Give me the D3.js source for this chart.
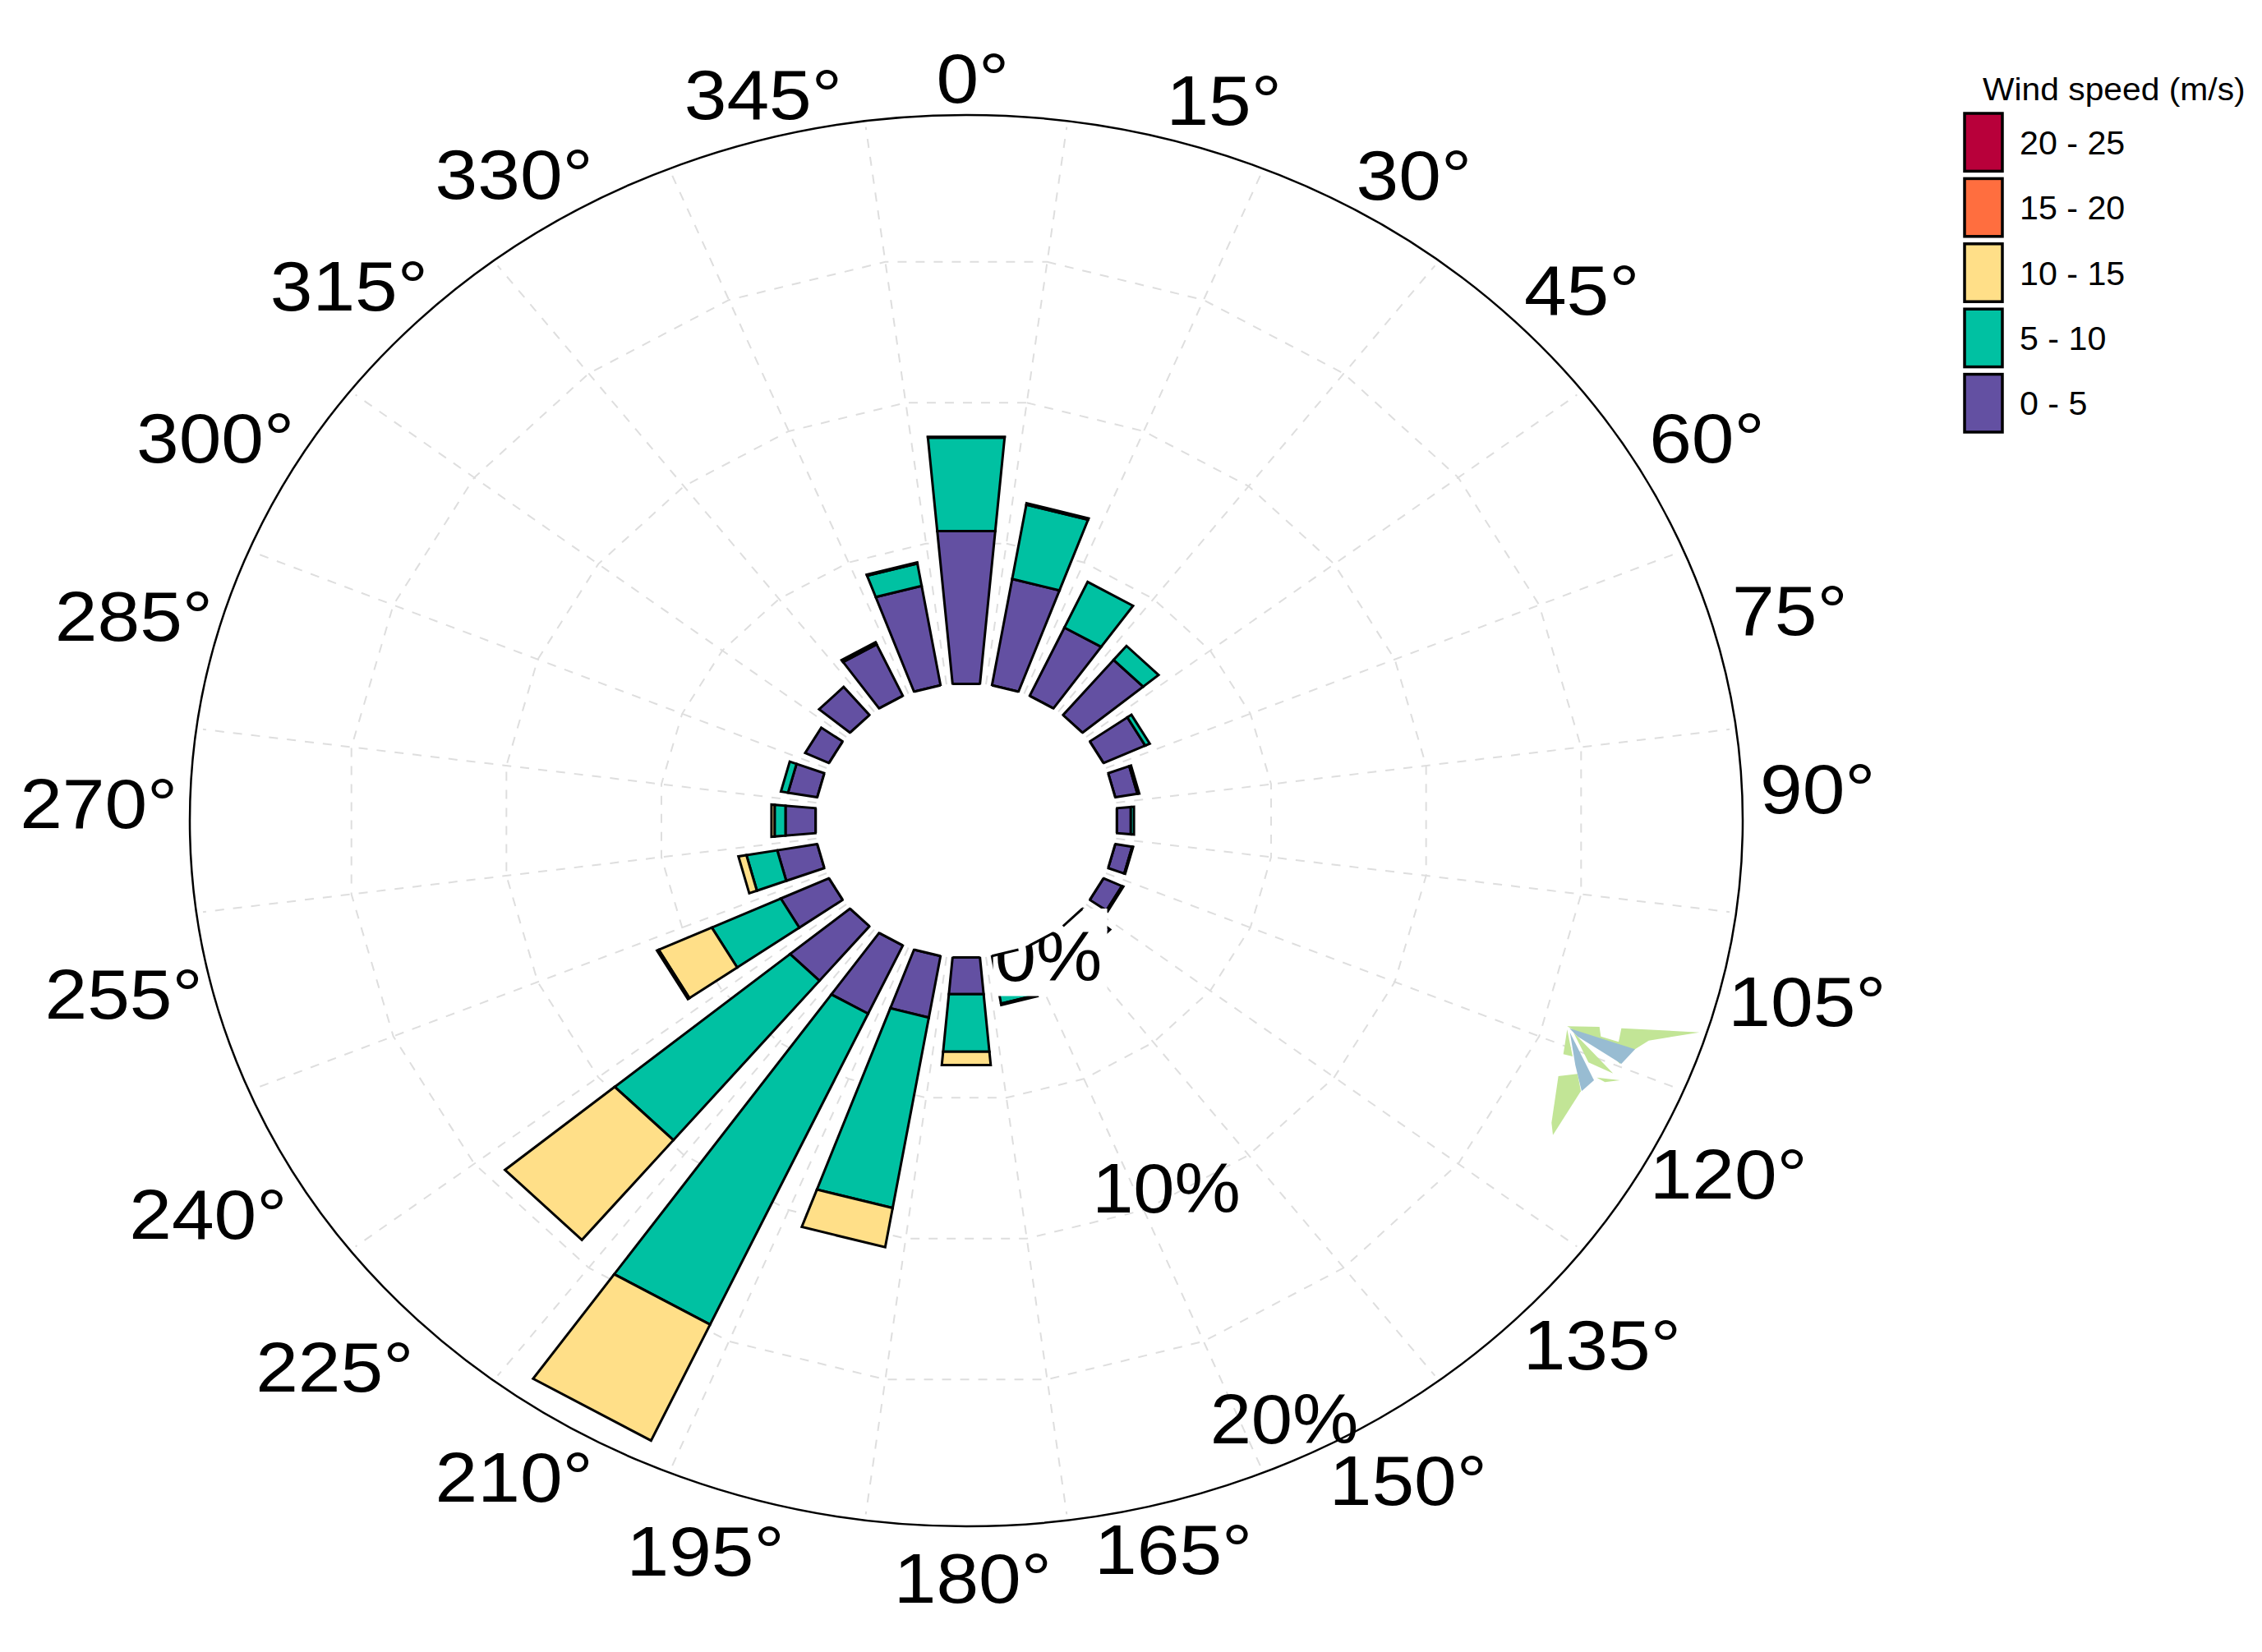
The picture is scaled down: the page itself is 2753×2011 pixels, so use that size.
<!DOCTYPE html>
<html>
<head>
<meta charset="utf-8">
<script src="https://d3js.org/d3.v7.min.js"></script>
<style>
  html, body { margin: 0; padding: 0; background: #fff; }
  text { font-family: "Liberation Sans", Arial, sans-serif; fill: #000; }
</style>
</head>
<body>
<svg id="chart"></svg>
<script>
// wind direction in degrees, clockwise from north
const directions = [0, 15, 30, 45, 60, 75, 90, 105, 120, 135, 150, 165, 180, 195, 210, 225, 240, 255, 270, 285, 300, 315, 330, 345];

// share of hours (%) per speed class
const speed0to5 =   [5.4, 3.8, 2.65, 2.53, 1.47, 0.72, 0.45, 0.55, 0.65, 1.15, 0.5, 1.0, 1.3, 2.2, 2.65, 2.5, 1.7, 1.3, 0.97, 0.95, 0.84, 1.29, 2.0, 3.55];
const speed5to10 =  [3.3, 2.65, 1.77, 0.64, 0.16, 0.06, 0.1, 0.03, 0.05, 0, 0, 0.7, 2.03, 6.8, 12.05, 7.3, 2.43, 1.0, 0.35, 0.23, 0, 0, 0.05, 0.8];
const speed10to15 = [0.03, 0.05, 0, 0, 0, 0, 0, 0, 0, 0, 0, 0.05, 0.47, 1.4, 4.5, 4.57, 1.87, 0.26, 0.1, 0, 0, 0, 0.03, 0.04];
const speed15to20 = [0, 0, 0, 0, 0, 0, 0, 0, 0, 0, 0, 0, 0, 0, 0, 0, 0.06, 0, 0, 0, 0, 0, 0, 0];
const speed20to25 = [0, 0, 0, 0, 0, 0, 0, 0, 0, 0, 0, 0, 0, 0, 0, 0, 0, 0, 0, 0, 0, 0, 0, 0];

const speedBins = ['0 - 5', '5 - 10', '10 - 15', '15 - 20', '20 - 25'];
const speedColors = ['#6350a2', '#00c1a2', '#ffdf88', '#ff6e3f', '#b8003a'];
const speedSeries = [speed0to5, speed5to10, speed10to15, speed15to20, speed20to25];

const radialTicks = [5, 10, 15];
const radialLabels = [0, 10, 20];
const legendTitle = 'Wind speed (m/s)';

// stray logo in the lower right of the plot
const logoGreen = [
  [[262,148],[380,150],[385,185],[450,205],[460,155],[745,170],[560,200],[505,235],[455,285],[400,230],[300,170]],
  [[262,160],[282,258],[248,250]],
  [[285,170],[430,320],[340,280]],
  [[230,330],[300,322],[312,385],[210,545],[205,500]],
  [[370,335],[455,345],[400,352]]
];
const logoBlue = [
  [[270,155],[510,232],[460,285],[300,185]],
  [[272,170],[360,345],[315,385],[292,290]]
];

const w = 2753;
const h = 2011;
const cx = 1176;
const cy = 999;
const squash = 0.909; // the whole plot is squeezed vertically
const rad = Math.PI / 180;
const halfBar = 5.2;

const svg = d3.select('#chart').attr('width', w).attr('height', h);

const rScale = d3.scaleLinear().domain([0, 20]).range([184, 945]);
// the % labels sit off the rings, so they get their own offsets from the centre
const labelX = d3.scaleLinear().domain([0, 20]).range([100, 387]);
const labelY = d3.scaleLinear().domain([0, 20]).range([165, 728]);

const radial = d3.lineRadial()
  .angle((d) => d[0] * rad)
  .radius((d) => d[1]);

const plot = svg.append('g')
  .attr('transform', `translate(${cx},${cy}) scale(1,${squash})`);

// GRID
const spokes = directions.map((d) => d + 7.5);

plot.selectAll('.spoke')
  .data(spokes)
  .enter()
  .append('path')
  .attr('class', 'spoke')
  .attr('d', (a) => radial([[a, rScale(0)], [a, rScale(20) - 8]]))
  .attr('fill', 'none')
  .attr('stroke', '#dedede')
  .attr('stroke-width', 2)
  .attr('stroke-dasharray', '11 11')
  .attr('vector-effect', 'non-scaling-stroke');

plot.selectAll('.ring')
  .data(radialTicks)
  .enter()
  .append('path')
  .attr('class', 'ring')
  .attr('d', (v) => radial.curve(d3.curveLinearClosed)(spokes.map((a) => [a, rScale(v)])))
  .attr('fill', 'none')
  .attr('stroke', '#dedede')
  .attr('stroke-width', 2)
  .attr('stroke-dasharray', '11 11')
  .attr('vector-effect', 'non-scaling-stroke');

radial.curve(d3.curveLinear);

plot.append('circle')
  .attr('r', rScale(20))
  .attr('fill', 'none')
  .attr('stroke', '#000')
  .attr('stroke-width', 2.5)
  .attr('vector-effect', 'non-scaling-stroke');

// BARS
const rows = directions.map((d, i) => {
  const row = { dir: d };
  speedBins.forEach((b, k) => { row[b] = speedSeries[k][i]; });
  return row;
});
const layers = d3.stack().keys(speedBins)(rows);

function wedge(dir, r0, r1) {
  return radial.curve(d3.curveLinearClosed)([
    [dir - halfBar, r0], [dir + halfBar, r0], [dir + halfBar, r1], [dir - halfBar, r1]
  ]);
}

layers.forEach((layer, k) => {
  plot.append('g')
    .selectAll('path')
    .data(layer.filter((d) => d[1] > d[0]))
    .enter()
    .append('path')
    .attr('d', (d) => wedge(d.data.dir, rScale(d[0]), rScale(d[1])))
    .attr('fill', speedColors[k])
    .attr('stroke', '#000')
    .attr('stroke-width', 3)
    .attr('stroke-linejoin', 'miter')
    .attr('vector-effect', 'non-scaling-stroke');
});

// LOGO
const logo = svg.append('g').attr('transform', 'translate(1820,1200) scale(0.3333)');
logo.selectAll('.lg').data(logoGreen).enter().append('polygon')
  .attr('points', (p) => p.join(' ')).attr('fill', '#c2e596');
logo.selectAll('.lb').data(logoBlue).enter().append('polygon')
  .attr('points', (p) => p.join(' ')).attr('fill', '#98bcd2');

// RADIAL LABELS (the box behind 0% hides part of the low bars)
const radialGroup = svg.append('g');
radialLabels.forEach((v) => {
  const g = radialGroup.append('g')
    .attr('transform', `translate(${cx + labelX(v)},${cy + labelY(v)}) scale(1.05,1)`);
  const t = g.append('text')
    .attr('text-anchor', 'middle')
    .attr('y', 30)
    .style('font-size', '86px')
    .text(v + '%');
  if (v === 0) {
    const bb = t.node().getBBox();
    g.insert('rect', 'text')
      .attr('x', bb.x - 2)
      .attr('y', bb.y - 10)
      .attr('width', bb.width + 8)
      .attr('height', bb.height + 10)
      .attr('fill', '#fff');
  }
});

// white hole on top of the 0% label, then the bar feet again
const hole = svg.append('g')
  .attr('transform', `translate(${cx},${cy}) scale(1,${squash})`);
hole.append('circle').attr('r', rScale(0) - 1).attr('fill', '#fff');
hole.selectAll('path')
  .data(directions)
  .enter()
  .append('path')
  .attr('d', (d) => radial.curve(d3.curveLinear)([[d - halfBar, rScale(0)], [d + halfBar, rScale(0)]]))
  .attr('fill', 'none')
  .attr('stroke', '#000')
  .attr('stroke-width', 3)
  .attr('vector-effect', 'non-scaling-stroke');

// DIRECTION LABELS
// hand tweaks, the original labels do not sit on a clean ellipse
const labelNudge = [[5,2],[25,0],[13,0],[6,-3],[-2,-8],[-4,-14],[-5,-25],[8,-12],[13,-18],[20,-7],[9,4],[-10,0],
  [5,2],[-26,1],[-15,2],[-16,8],[-9,10],[-8,-17],[-5,-15],[-1,-10],[-4,-8],[-6,-6],[-15,-1],[14,-4]];

svg.append('g')
  .selectAll('text')
  .data(directions)
  .enter()
  .append('text')
  .attr('transform', (d, i) => {
    const x = cx - 1 + 1046 * Math.sin(d * rad) + labelNudge[i][0] * 1.756;
    const y = cy + 5 - 913 * Math.cos(d * rad) + labelNudge[i][1] * 1.756;
    return `translate(${x},${y + 30}) scale(1.08,1)`;
  })
  .attr('text-anchor', 'middle')
  .style('font-size', '86px')
  .text((d) => d + '°');

// LEGEND
const legendY = d3.scaleBand()
  .domain(speedBins.slice().reverse())
  .range([135, 532]);

svg.append('text')
  .attr('transform', 'translate(2413,122) scale(1.06,1)')
  .style('font-size', '38.5px')
  .text(legendTitle);

const legend = svg.append('g')
  .selectAll('g')
  .data(speedBins)
  .enter()
  .append('g')
  .attr('transform', (d) => `translate(2391,${legendY(d)})`);

legend.append('rect')
  .attr('y', 3)
  .attr('width', 46)
  .attr('height', legendY.bandwidth() - 9)
  .attr('fill', (d, i) => speedColors[i])
  .attr('stroke', '#000')
  .attr('stroke-width', 3.5);

legend.append('text')
  .attr('transform', `translate(67,${legendY.bandwidth() / 2 + 13}) scale(1.03,1)`)
  .style('font-size', '40px')
  .text((d) => d);
</script>
</body>
</html>
